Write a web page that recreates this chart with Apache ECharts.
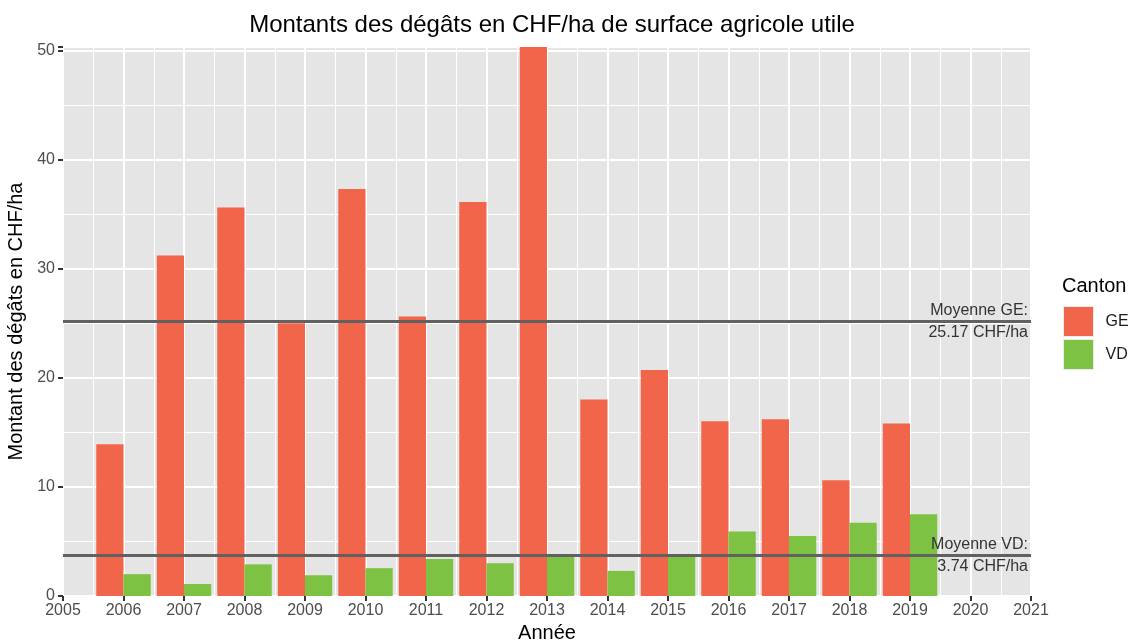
<!DOCTYPE html>
<html>
<head>
<meta charset="utf-8">
<script src="https://cdn.jsdelivr.net/npm/echarts@6/dist/echarts.min.js"></script>
<style>
  html, body { margin: 0; padding: 0; background: #fff; }
  #chart { width: 1131px; height: 640px; }
</style>
</head>
<body>
<div id="chart"></div>
<script>
// données
var years = [2006, 2007, 2008, 2009, 2010, 2011, 2012, 2013, 2014, 2015, 2016, 2017, 2018, 2019];
var geValues = [13.9, 31.2, 35.6, 25.0, 37.3, 25.6, 36.1, 50.3, 18.0, 20.7, 16.0, 16.2, 10.6, 15.8];
var vdValues = [2.0, 1.1, 2.9, 1.9, 2.55, 3.4, 3.0, 3.8, 2.3, 3.75, 5.9, 5.5, 6.7, 7.5];
var meanGE = 25.17;
var meanVD = 3.74;
var cantons = ['GE', 'VD'];

var font = 'Liberation Sans, Arial, sans-serif';
var chart = echarts.init(document.getElementById('chart'));

// barre "dodge" façon ggplot : GE à gauche de l'année, VD à droite
function barRenderer(offset) {
    return function (params, api) {
        var x = api.value(0);
        var v = api.value(1);
        var p0 = api.coord([x + offset, v]);
        var p1 = api.coord([x + offset + 0.45, 0]);
        return {
            type: 'rect',
            shape: { x: p0[0], y: p0[1], width: p1[0] - p0[0], height: p1[1] - p0[1] },
            style: { fill: api.visual('color') }
        };
    };
}

function meanLine(value, top, bottom) {
    return [
        { yAxis: value, label: { show: true, position: 'insideEndTop', formatter: top } },
        { yAxis: value, lineStyle: { color: 'rgba(0,0,0,0)' },
          label: { show: true, position: 'insideEndBottom', formatter: bottom } }
    ];
}

chart.setOption({
    animation: false,
    backgroundColor: '#fff',
    title: [{
        text: 'Montants des dégâts en CHF/ha de surface agricole utile',
        left: 547, top: 8, textAlign: 'center',
        textStyle: { fontFamily: font, fontSize: 24, fontWeight: 'normal', color: '#000' }
    }, {
        text: 'Canton', left: 1062, top: 276, padding: 0,
        textStyle: { fontFamily: font, fontSize: 20, fontWeight: 'normal', color: '#000' }
    }],
    legend: {
        data: cantons,
        orient: 'vertical',
        left: 1063, top: 306, padding: 0,
        itemWidth: 30, itemHeight: 30, itemGap: 2,
        icon: 'rect',
        itemStyle: { borderColor: '#ebebeb', borderWidth: 1 },
        textStyle: { fontFamily: font, fontSize: 16, color: '#1a1a1a', padding: [0, 0, 0, 7] }
    },
    grid: { left: 63, right: 100, top: 47, bottom: 44, outerBoundsMode: 'none',
            show: true, backgroundColor: '#e5e5e5', borderWidth: 0 },
    xAxis: {
        type: 'value', min: 2005, max: 2021, interval: 1,
        name: 'Année', nameLocation: 'middle', nameGap: 26,
        nameTextStyle: { fontFamily: font, fontSize: 20, color: '#000' },
        axisLine: { show: false },
        axisTick: { show: true, length: 5, lineStyle: { color: '#333', width: 2 } },
        axisLabel: { fontFamily: font, fontSize: 16, color: '#4d4d4d', margin: 7,
                     formatter: function (v) { return String(v); } },
        splitLine: { lineStyle: { color: '#fff', width: 2 } },
        minorTick: { show: true, splitNumber: 2, length: 0, lineStyle: { opacity: 0 } },
        minorSplitLine: { show: true, lineStyle: { color: '#fff', width: 1 } }
    },
    yAxis: {
        type: 'value', min: 0, max: 50.3, interval: 10,
        name: 'Montant des dégâts en CHF/ha', nameLocation: 'middle', nameGap: 31,
        nameTextStyle: { fontFamily: font, fontSize: 20, color: '#000' },
        axisLine: { show: false },
        axisTick: { show: true, length: 5, lineStyle: { color: '#333', width: 2 } },
        axisLabel: { fontFamily: font, fontSize: 16, color: '#4d4d4d', margin: 8 },
        splitLine: { lineStyle: { color: '#fff', width: 2 } },
        minorTick: { show: true, splitNumber: 2, length: 0, lineStyle: { opacity: 0 } },
        minorSplitLine: { show: true, lineStyle: { color: '#fff', width: 1 } }
    },
    series: [{
        name: 'GE', type: 'custom', z: 2,
        itemStyle: { color: '#f1664b' },
        renderItem: barRenderer(-0.45),
        encode: { x: 0, y: 1 },
        data: years.map(function (y, i) { return [y, geValues[i]]; })
    }, {
        name: 'VD', type: 'custom', z: 2,
        itemStyle: { color: '#7dc242' },
        renderItem: barRenderer(0),
        encode: { x: 0, y: 1 },
        data: years.map(function (y, i) { return [y, vdValues[i]]; }),
        markLine: {
            silent: true, symbol: 'none', z: 5,
            lineStyle: { color: '#616161', width: 3, type: 'solid' },
            label: { fontFamily: font, fontSize: 16, color: '#333', distance: [3, 3] },
            data: meanLine(meanGE, 'Moyenne GE:', meanGE + ' CHF/ha')
                .concat(meanLine(meanVD, 'Moyenne VD:', meanVD + ' CHF/ha'))
        }
    }]
});
</script>
</body>
</html>
